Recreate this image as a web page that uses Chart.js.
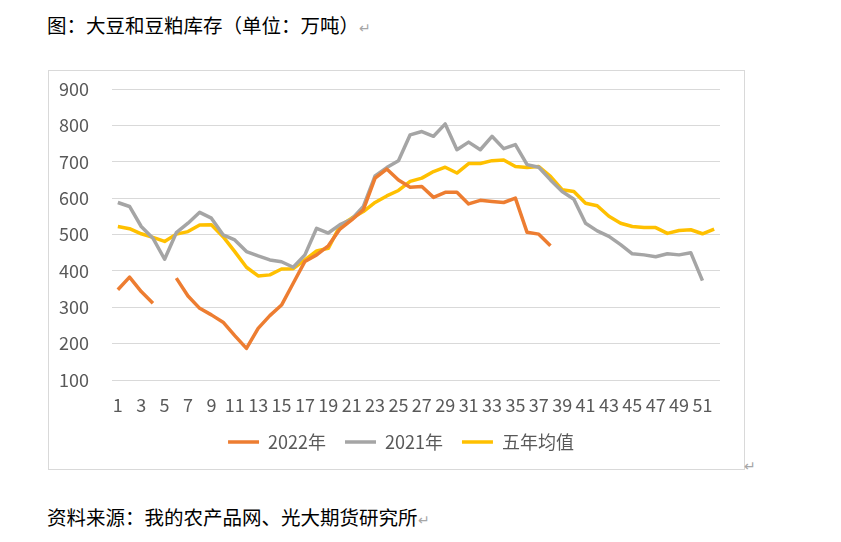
<!DOCTYPE html>
<html>
<head>
<meta charset="utf-8">
<script src="https://cdn.jsdelivr.net/npm/chart.js@4"></script>
<style>
  body { margin: 0; background: #fff; width: 841px; height: 542px; position: relative; font-family: 'Noto Sans CJK SC', sans-serif; }
  .title { position: absolute; left: 47px; top: 15px; font-size: 19.5px; line-height: 20px; color: #000; white-space: nowrap; }
  .src { position: absolute; left: 47px; top: 507px; font-size: 19.5px; line-height: 20px; color: #000; white-space: nowrap; }
  .mark { color: #a6a6a6; font-size: 14px; }
  #box { position: absolute; left: 48px; top: 70px; width: 695px; height: 398px; border: 1px solid #d9d9d9; }
  #boxMark { position: absolute; left: 744px; top: 455px; }
</style>
</head>
<body>
<div class="title">图：大豆和豆粕库存（单位：万吨）<span class="mark">↵</span></div>
<div id="box"><canvas id="stockChart" width="695" height="398"></canvas></div>
<div id="boxMark" class="mark">↵</div>
<div class="src">资料来源：我的农产品网、光大期货研究所<span class="mark">↵</span></div>
<script>
// 周次
const weeks = ['1','2','3','4','5','6','7','8','9','10','11','12','13','14','15','16','17','18','19','20',
  '21','22','23','24','25','26','27','28','29','30','31','32','33','34','35','36','37','38','39','40',
  '41','42','43','44','45','46','47','48','49','50','51','52'];

// 2022年
const stock2022 = [348, 383, 343, 311, null, 380, 331, 297, 279, 259, 222, 187, 242, 277, 306, 366, 426, 444, 469, 515,
  540, 568, 655, 680, 650, 630, 632, 602, 616, 616, 584, 594, 591, 588, 600, 506, 501, 469, null, null,
  null, null, null, null, null, null, null, null, null, null, null, null];

// 2021年
const stock2021 = [588, 577, 522, 490, 432, 505, 531, 561, 545, 499, 485, 453, 441, 430, 425, 410, 444, 517, 504, 527,
  542, 577, 661, 684, 703, 774, 783, 770, 804, 733, 754, 733, 770, 736, 747, 692, 685, 650, 618, 597,
  531, 510, 495, 472, 447, 444, 439, 447, 444, 450, 373, null];

// 五年均值
const avg5y = [522, 516, 502, 492, 481, 501, 508, 526, 527, 494, 453, 410, 386, 389, 405, 406, 430, 455, 462, 524,
  545, 563, 588, 606, 621, 646, 655, 673, 685, 669, 695, 695, 703, 705, 687, 684, 687, 660, 623, 618,
  586, 579, 550, 531, 522, 519, 519, 503, 511, 513, 502, 515];

const fontFamily = "'Noto Sans CJK SC', sans-serif";
const textColor = '#595959';

const ctx = document.getElementById('stockChart').getContext('2d');
const stockChart = new Chart(ctx, {
  type: 'line',
  data: {
    labels: weeks,
    datasets: [
      { label: '2022年', data: stock2022, borderColor: '#ED7D31', backgroundColor: '#ED7D31', borderWidth: 3.5 },
      { label: '2021年', data: stock2021, borderColor: '#A5A5A5', backgroundColor: '#A5A5A5', borderWidth: 3.5 },
      { label: '五年均值', data: avg5y, borderColor: '#FFC000', backgroundColor: '#FFC000', borderWidth: 3.5 }
    ]
  },
  options: {
    responsive: false,
    animation: false,
    layout: { padding: { top: 18, right: 0, bottom: 8, left: 9 } },
    elements: {
      line: { tension: 0, borderJoinStyle: 'round' },
      point: { radius: 0, hoverRadius: 0 }
    },
    plugins: {
      legend: {
        position: 'bottom',
        labels: {
          usePointStyle: true,
          pointStyle: 'line',
          pointStyleWidth: 31,
          padding: 19,
          color: textColor,
          font: { size: 18, family: fontFamily }
        }
      },
      tooltip: { enabled: false }
    },
    scales: {
      x: {
        offset: true,
        grid: { display: false, drawTicks: false },
        border: { display: false },
        ticks: {
          autoSkip: false,
          maxRotation: 0,
          padding: 14,
          color: textColor,
          font: { size: 18, family: fontFamily },
          callback: (v, i) => (i % 2 === 0 ? weeks[i] : '')
        },
        afterFit: (scale) => { scale.height = 34; }
      },
      y: {
        min: 100,
        max: 900,
        border: { display: false },
        grid: { color: '#d9d9d9', drawTicks: false },
        ticks: {
          stepSize: 100,
          padding: 23,
          color: textColor,
          font: { size: 18, family: fontFamily }
        },
        afterFit: (scale) => {
          scale.width = 54;
          scale.paddingTop = 0;
          scale.paddingBottom = 0;
        }
      },
      // 右侧留白
      yRight: {
        position: 'right',
        grid: { display: false, drawTicks: false },
        border: { display: false },
        ticks: { display: false },
        afterFit: (scale) => { scale.width = 24; }
      }
    }
  }
});
</script>
</body>
</html>
